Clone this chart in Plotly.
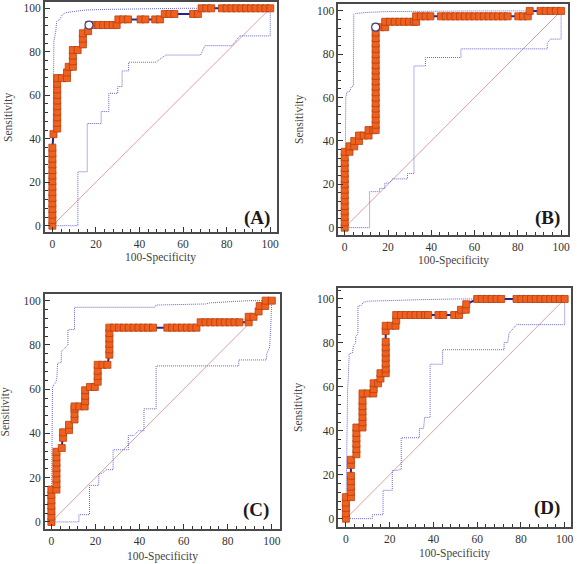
import plotly.graph_objects as go

W, H = 577, 564

# ---------------- Panel A ----------------
A_roc_x = [0, 0, 0, 0, 0, 0, 0, 0, 0, 0, 0, 0, 0, 0, 0, 0.5, 2.2, 2.2, 2.2, 2.2, 2.2, 2.2, 2.2, 2.2, 2.2, 2.2,
           4.4, 6.7, 6.7, 7.5, 9.4, 9.4, 9.4, 9.4, 11.6, 14, 14, 14, 16.4, 16.8,
           18.9, 21.1, 23.3, 25.5, 27.7, 29.5, 30.3, 32.5, 34.7, 40.5, 42.7, 47.2, 49.4,
           51.6, 53.8, 56, 64.6, 66.8, 68.5, 70.7, 72.9,
           77.8, 80, 82.2, 84.4, 86.7, 88.9, 91.1, 93.3, 95.6, 97.8, 100]
A_roc_y = [0, 2.6, 5.1, 7.7, 10.3, 12.8, 15.4, 17.9, 20.5, 23.1, 25.6, 28.2, 30.8, 33.3, 35.9, 42.1, 44.7, 47.3, 49.9, 52.4, 55, 57.6, 60.2, 62.7, 65.3, 67.9,
           67.9, 67.9, 70.5, 73.1, 73.1, 75.7, 78.2, 80.8, 80.8, 83.4, 86, 88.5, 89.5, 92.3,
           92.3, 92.3, 92.3, 92.3, 92.3, 92.3, 94.9, 94.9, 94.9, 94.9, 94.9, 94.9, 94.9,
           97.4, 97.4, 97.4, 97.4, 97.4, 100, 100, 100,
           100, 100, 100, 100, 100, 100, 100, 100, 100, 100, 100]
A_up_x = [0, 0.4, 0.7, 1.5, 2, 3.5, 4.5, 6, 10, 15, 25, 45, 60, 100]
A_up_y = [0, 40, 85, 89, 94, 95, 97, 98, 98.5, 99.2, 99.5, 99.8, 100, 100]
A_lo_x = [0, 11.7, 11.7, 16, 16, 22.4, 22.4, 25.9, 25.9, 30, 30, 32, 32, 35, 35, 47.5, 52, 68, 70, 82.5, 86, 100, 100]
A_lo_y = [0, 0, 24.8, 24.8, 47, 47, 52.5, 52.5, 60.9, 60.9, 64, 64, 71.2, 71.2, 75.2, 75.2, 78.5, 78.5, 82.8, 82.8, 87.3, 87.3, 100]
A_opt = [16.8, 92.3]

# ---------------- Panel B ----------------
B_roc_x = [0] * 15 + [2.2, 2.2, 4.4, 4.4, 6.6, 6.6, 8.8, 11, 11, 13.2] + [14.3] * 19 + [14.3,
           16.5, 18.7, 18.7, 20.9, 23.1, 25.3, 27.5, 29.7, 31.9, 33, 33, 35.2, 37.4, 39.6,
           44.5, 46.7, 48.9, 51.1, 53.3, 55.5, 57.7, 59.9, 62.1, 64.3, 66.5, 68.7, 70.9, 73.1, 75.3,
           80.2, 82.4, 84.6, 85.5, 90.5, 92.9, 95.2, 97.6, 100]
B_roc_y = [0, 2.5, 5, 7.5, 10, 12.5, 15, 17.5, 20, 22.5, 25, 27.5, 30, 32.5, 35,
           35, 37.5, 37.5, 40, 40, 42.5, 42.5, 42.5, 45, 45,
           45, 47.5, 50, 52.5, 55, 57.5, 60, 62.5, 65, 67.5, 70, 72.5, 75, 77.5, 80, 82.5, 85, 87.5, 90, 92.5,
           92.5, 92.5, 95, 95, 95, 95, 95, 95, 95, 95, 97.5, 97.5, 97.5, 97.5,
           97.5, 97.5, 97.5, 97.5, 97.5, 97.5, 97.5, 97.5, 97.5, 97.5, 97.5, 97.5, 97.5, 97.5, 97.5,
           97.5, 97.5, 97.5, 100, 100, 100, 100, 100, 100]
B_up_x = [0, 0.3, 0.5, 1, 2.5, 3, 4, 4.2, 5, 10, 20, 60, 100]
B_up_y = [0, 58, 60, 62.5, 63, 64.8, 65.5, 98.3, 98.8, 99.3, 99.7, 100, 100]
B_lo_x = [0, 11.5, 11.5, 16.1, 16.1, 18.5, 18.5, 20, 21, 22, 29, 29, 32, 32, 37.3, 37.3, 53.7, 53.7, 93.6, 93.6, 95, 100, 100]
B_lo_y = [0, 0, 16.6, 16.6, 18.1, 18.1, 20.5, 20.5, 21, 22.5, 22.5, 25, 25, 74.6, 74.6, 78.5, 78.5, 82.5, 82.5, 85, 87, 87, 100]
B_opt = [14.3, 92.5]

# ---------------- Panel C ----------------
C_roc_x = [0, 0, 0, 0, 0, 0, 0, 2.3, 2.3, 2.3, 2.3, 2.3, 2.3, 2.3, 2.3, 4.7,
           5.3, 5.3, 8, 8, 10.5, 10.5, 10.5, 10.5, 12.7, 15.1, 15.3, 15.3, 15.3, 17.5, 19.7,
           21, 21, 21, 21, 23.2, 25.4, 26.3, 26.3, 26.3, 26.3, 26.3, 26.3,
           28.5, 30.7, 32.9, 35.1, 37.3, 39.5, 41.7, 43.9, 46.1,
           52.6, 54.8, 57, 59.2, 61.4, 63.6, 65.8, 67.7, 69.9, 72.1, 74.3, 76.5, 78.7, 80.9, 83.1, 85.3,
           89.5, 89.5, 91.7, 94, 94.5, 97, 97.2, 100]
C_roc_y = [0, 2.4, 4.9, 7.3, 9.8, 12.2, 14.6, 14.6, 17.1, 19.5, 22, 24.4, 26.8, 29.3, 31.7, 33.4,
           38, 40.5, 41.5, 43.9, 46.3, 48.8, 51.2, 52.2, 52.2, 52.2, 54.6, 57, 59.5, 61, 61,
           63.4, 65.9, 68.3, 71, 71, 71, 75.6, 78, 80.5, 82.9, 85.4, 87.8,
           87.8, 87.8, 87.8, 87.8, 87.8, 87.8, 87.8, 87.8, 87.8,
           87.8, 87.8, 87.8, 87.8, 87.8, 87.8, 87.8, 90.2, 90.2, 90.2, 90.2, 90.2, 90.2, 90.2, 90.2, 90.2,
           90.2, 92.7, 92.7, 95.1, 97.6, 97.6, 100, 100]
C_up_x = [0, 0.5, 1, 2, 2.5, 2.8, 4.5, 4.5, 6.5, 7.5, 7.5, 10.5, 10.5, 47, 47.5, 70, 72, 80, 90, 100]
C_up_y = [0, 60.5, 62, 63, 65, 71.7, 72, 77, 79, 80, 86.8, 87, 97, 97, 98, 98.5, 99, 99.5, 100, 100]
C_lo_x = [0, 12.5, 12.5, 17.3, 17.3, 21.5, 21.5, 23, 25, 28, 28, 34.9, 34.9, 37.5, 39.5, 42, 42, 47.5, 47.5, 85, 85, 97.5, 97.7, 99, 99.5, 100]
C_lo_y = [0, 0, 3.3, 3.3, 16.5, 16.5, 21.7, 22, 23.6, 23.6, 32.6, 32.6, 39.1, 39.1, 41.2, 41.2, 51.1, 51.1, 70.5, 70.5, 73.2, 73.2, 76, 79, 88, 100]

# ---------------- Panel D ----------------
D_roc_x = [0, 0, 0, 0, 0, 2.3, 2.3, 2.3, 2.3, 2.3, 2.3, 2.3,
           4.8, 4.8, 4.8, 4.8, 4.8, 4.8, 7.6, 7.6, 7.6, 7.6, 7.6, 7.6, 7.6, 10, 12.5, 12.7, 12.7, 14.7,
           15.8, 15.8, 18.2, 18.2, 18.2, 18.2, 18.2, 18.2, 18.2, 18.2, 18.2, 20.5, 22.7, 23, 23,
           25.2, 27.4, 29.6, 31.8, 34, 36.2, 37.6, 42.3, 44.5, 49.5, 51.7, 52.6, 54.8, 55,
           60, 62.2, 64.4, 66.6, 68.8, 71,
           78, 80.2, 82.4, 84.6, 86.8, 89, 91.2, 93.4, 95.6, 97.8, 100]
D_roc_y = [0, 2.4, 4.9, 7.3, 9.8, 9.8, 12.2, 14.6, 17.1, 19.5, 24.4, 26.8,
           29.3, 31.7, 34.1, 36.6, 39, 41.5, 41.5, 43.9, 46.3, 48.8, 51.2, 53.7, 57, 57, 57, 59, 61.6, 61.6,
           63.8, 66.2, 66.2, 68.3, 70.7, 73.2, 75.6, 78, 80.5, 85.4, 87.8, 87.8, 87.8, 90.2, 92.7,
           92.7, 92.7, 92.7, 92.7, 92.7, 92.7, 92.7, 92.7, 92.7, 92.7, 92.7, 95.1, 95.1, 97.6,
           100, 100, 100, 100, 100, 100,
           100, 100, 100, 100, 100, 100, 100, 100, 100, 100, 100]
D_up_x = [0, 0.5, 0.8, 1, 1.5, 3, 3.5, 4.5, 4.5, 5.5, 5.5, 7, 8, 10, 30, 35, 50, 100]
D_up_y = [0, 49.5, 60, 62, 75, 75.5, 79, 80, 83, 84, 96.7, 97, 98.5, 99, 99.3, 99.7, 100, 100]
D_lo_x = [0, 12.1, 12.1, 17, 17, 21.2, 21.2, 23.5, 25.3, 25.3, 33.6, 33.6, 35.5, 36, 38.5, 38.5, 44.2, 44.2, 72.3, 72.3, 74, 74.5, 76, 78, 100, 100]
D_lo_y = [0, 0, 1.8, 1.8, 12.9, 12.9, 22, 22, 22.5, 36.8, 36.8, 41.1, 41.1, 46.1, 46.1, 70.3, 70.3, 76.9, 76.9, 80.2, 80.2, 84.2, 86, 88.3, 88.3, 100]

diag_x = [0, 100]
diag_y = [0, 100]

tick_vals = [0, 20, 40, 60, 80, 100]
panel_labels = ["(A)", "(B)", "(C)", "(D)"]
x_title = "100-Specificity"
y_title = "Sensitivity"

panels = [
    dict(roc=(A_roc_x, A_roc_y), up=(A_up_x, A_up_y), lo=(A_lo_x, A_lo_y), opt=A_opt),
    dict(roc=(B_roc_x, B_roc_y), up=(B_up_x, B_up_y), lo=(B_lo_x, B_lo_y), opt=B_opt),
    dict(roc=(C_roc_x, C_roc_y), up=(C_up_x, C_up_y), lo=(C_lo_x, C_lo_y), opt=None),
    dict(roc=(D_roc_x, D_roc_y), up=(D_up_x, D_up_y), lo=(D_lo_x, D_lo_y), opt=None),
]

# layout geometry (pixels): frame left, right, top, bottom ; axis ranges
frames = [
    dict(l=45, r=278, t=2, b=232, xr=[-3.5, 102.9], yr=[-2.9, 102.9]),
    dict(l=340, r=571, t=4, b=235, xr=[-3.0, 103.2], yr=[-3.4, 103.2]),
    dict(l=45, r=281, t=294, b=529, xr=[-3.0, 103.5], yr=[-3.2, 103.0]),
    dict(l=340, r=574, t=288, b=527, xr=[-3.5, 102.9], yr=[-3.8, 105.0]),
]
label_pos = [(258, 218), (550, 218), (257, 510), (550, 508)]
ytitle_x = [9, 301, 6, 300]
xtitle_y = [258, 260, 556, 553]

SERIF = "Liberation Serif, Times New Roman, serif"
ORANGE = "#F0601E"
ORANGE_EDGE = "#B8400F"
NAVY = "#26268A"
BAND = "#6464D2"
DIAG = "#E0A0A0"

fig = go.Figure()
annotations = []
for i, (p, f) in enumerate(zip(panels, frames)):
    n = "" if i == 0 else str(i + 1)
    xa, ya = "x" + n, "y" + n
    fig.add_trace(go.Scatter(x=diag_x, y=diag_y, mode="lines", line=dict(color=DIAG, width=1),
                             xaxis=xa, yaxis=ya, showlegend=False, hoverinfo="skip"))
    for bx, by in (p["up"], p["lo"]):
        fig.add_trace(go.Scatter(x=bx, y=by, mode="lines", line=dict(color=BAND, width=1, dash="1px,1px"),
                                 xaxis=xa, yaxis=ya, showlegend=False))
    rx, ry = p["roc"]
    fig.add_trace(go.Scatter(x=rx, y=ry, mode="lines+markers", line=dict(color=NAVY, width=2),
                             marker=dict(symbol="square", size=7, color=ORANGE,
                                         line=dict(color=ORANGE_EDGE, width=0.8)),
                             xaxis=xa, yaxis=ya, showlegend=False))
    if p["opt"] is not None:
        fig.add_trace(go.Scatter(x=[p["opt"][0]], y=[p["opt"][1]], mode="markers",
                                 marker=dict(symbol="circle", size=8, color="white",
                                             line=dict(color="#3A3A8A", width=1.2)),
                                 xaxis=xa, yaxis=ya, showlegend=False))
    axcommon = dict(showgrid=False, zeroline=False, showline=True, mirror=True, linecolor="#4A4A4A",
                    linewidth=1.6, ticks="inside", ticklen=5, tickwidth=1, tickcolor="#333",
                    tickvals=tick_vals, tickfont=dict(family=SERIF, size=11.5, color="#333"),
                    minor=dict(dtick=4, tick0=0, ticks="inside", ticklen=3, tickcolor="#333", tickwidth=1))
    fig.layout["xaxis" + n] = dict(axcommon, domain=[f["l"] / W, f["r"] / W], range=f["xr"], anchor=ya)
    fig.layout["yaxis" + n] = dict(axcommon, domain=[1 - f["b"] / H, 1 - f["t"] / H], range=f["yr"], anchor=xa)
    annotations.append(dict(text="<b>" + panel_labels[i] + "</b>", x=label_pos[i][0] / W, y=1 - label_pos[i][1] / H,
                            xref="paper", yref="paper", showarrow=False, xanchor="center", yanchor="middle",
                            font=dict(family=SERIF, size=19, color="#1a1a1a")))
    cx = (f["l"] + f["r"]) / 2
    cy = (f["t"] + f["b"]) / 2
    annotations.append(dict(text=x_title, x=cx / W, y=1 - xtitle_y[i] / H, xref="paper", yref="paper",
                            showarrow=False, xanchor="center", yanchor="middle",
                            font=dict(family=SERIF, size=11.5, color="#444")))
    annotations.append(dict(text=y_title, x=ytitle_x[i] / W, y=1 - cy / H, xref="paper", yref="paper",
                            showarrow=False, xanchor="center", yanchor="middle", textangle=-90,
                            font=dict(family=SERIF, size=11.5, color="#444")))

fig.update_layout(width=W, height=H, margin=dict(l=0, r=0, t=0, b=0), paper_bgcolor="white",
                  plot_bgcolor="white", annotations=annotations, showlegend=False)
fig.write_html("out.html", config={"displayModeBar": False},
               post_script="document.body.style.margin='0';document.body.style.overflow='hidden';")
